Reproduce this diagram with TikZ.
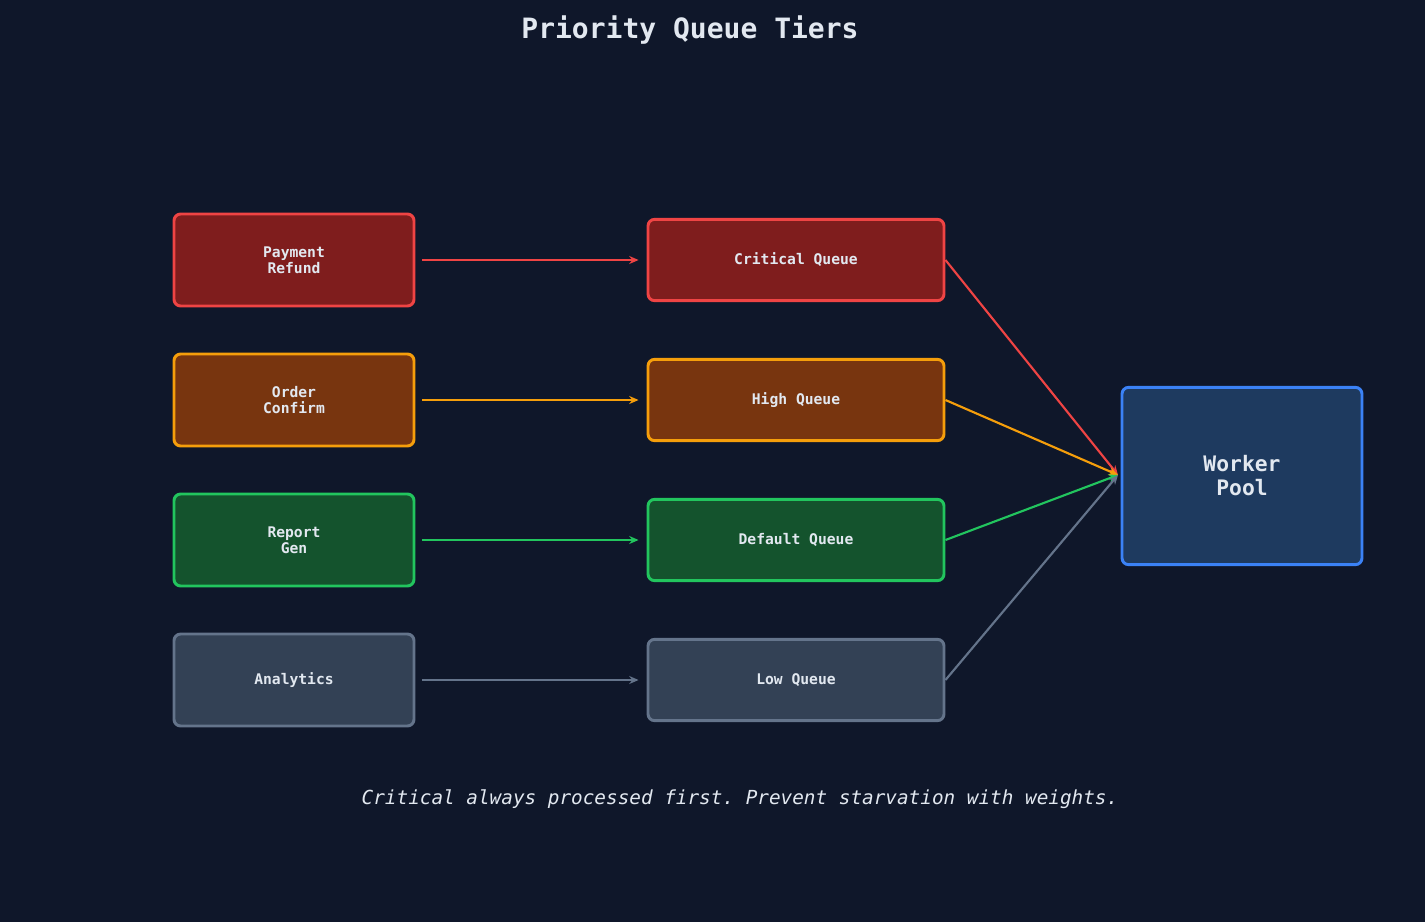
\documentclass[tikz,border=0pt]{standalone}
\usepackage{fontspec}
\setmonofont{DejaVu Sans Mono}
\usetikzlibrary{arrows.meta}
\definecolor{bg}{HTML}{0F172A}
\definecolor{txt}{HTML}{E2E8F0}
\definecolor{redln}{HTML}{EF4444}\definecolor{redfl}{HTML}{7F1D1D}
\definecolor{orln}{HTML}{F59E0B}\definecolor{orfl}{HTML}{78350F}
\definecolor{grln}{HTML}{22C55E}\definecolor{grfl}{HTML}{14532D}
\definecolor{gyln}{HTML}{64748B}\definecolor{gyfl}{HTML}{334155}
\definecolor{blln}{HTML}{3B82F6}\definecolor{blfl}{HTML}{1E3A5F}
\tikzset{
  box/.style={draw=#1ln,fill=#1fl,line width=2.2pt,rounded corners=5pt,text=txt,
    font=\ttfamily\bfseries\fontsize{11}{12}\selectfont,align=center,inner sep=0pt},
  src/.style={box=#1,minimum width=180pt,minimum height=69pt},
  que/.style={box=#1,minimum width=222pt,minimum height=61pt},
  link/.style={draw=#1ln,line width=2pt,-{Stealth[length=7pt,width=6pt]}},
  feed/.style={draw=#1ln,line width=1.6pt,-{Stealth[length=7pt,width=6pt]}}
}
\begin{document}
\begin{tikzpicture}[x=0.75pt,y=-0.75pt]
\fill[bg] (0,0) rectangle (1425,922);
\node[text=txt,font=\ttfamily\bfseries\fontsize{21}{24}\selectfont] (title) at (690,30) {Priority Queue Tiers};
% producers
\node[src=red] (pay) at (294,260) {Payment\\Refund};
\node[src=or] (ord) at (294,400) {Order\\Confirm};
\node[src=gr] (rep) at (294,540) {Report\\Gen};
\node[src=gy] (ana) at (294,680) {Analytics};
% queues
\node[que=red] (crit) at (796,260) {Critical Queue};
\node[que=or] (high) at (796,400) {High Queue};
\node[que=gr] (dflt) at (796,540) {Default Queue};
\node[que=gy] (low) at (796,680) {Low Queue};
% worker
\node[box=bl,minimum width=180pt,minimum height=133pt,font=\ttfamily\bfseries\fontsize{16}{18}\selectfont] (pool) at (1242,476) {Worker\\Pool};
\coordinate (in) at (1118,475);
\draw[link=red] ([xshift=5pt]pay.east) -- ([xshift=-6pt]crit.west);
\draw[link=or] ([xshift=5pt]ord.east) -- ([xshift=-6pt]high.west);
\draw[link=gr] ([xshift=5pt]rep.east) -- ([xshift=-6pt]dflt.west);
\draw[link=gy] ([xshift=5pt]ana.east) -- ([xshift=-6pt]low.west);
\draw[feed=red] (crit.east) -- (in);
\draw[feed=or] (high.east) -- (in);
\draw[feed=gr] (dflt.east) -- (in);
\draw[feed=gy] (low.east) -- (in);
\node[text=txt,font=\ttfamily\itshape\fontsize{14.5}{16}\selectfont] (note) at (740,799) {Critical always processed first. Prevent starvation with weights.};
\end{tikzpicture}
\end{document}
